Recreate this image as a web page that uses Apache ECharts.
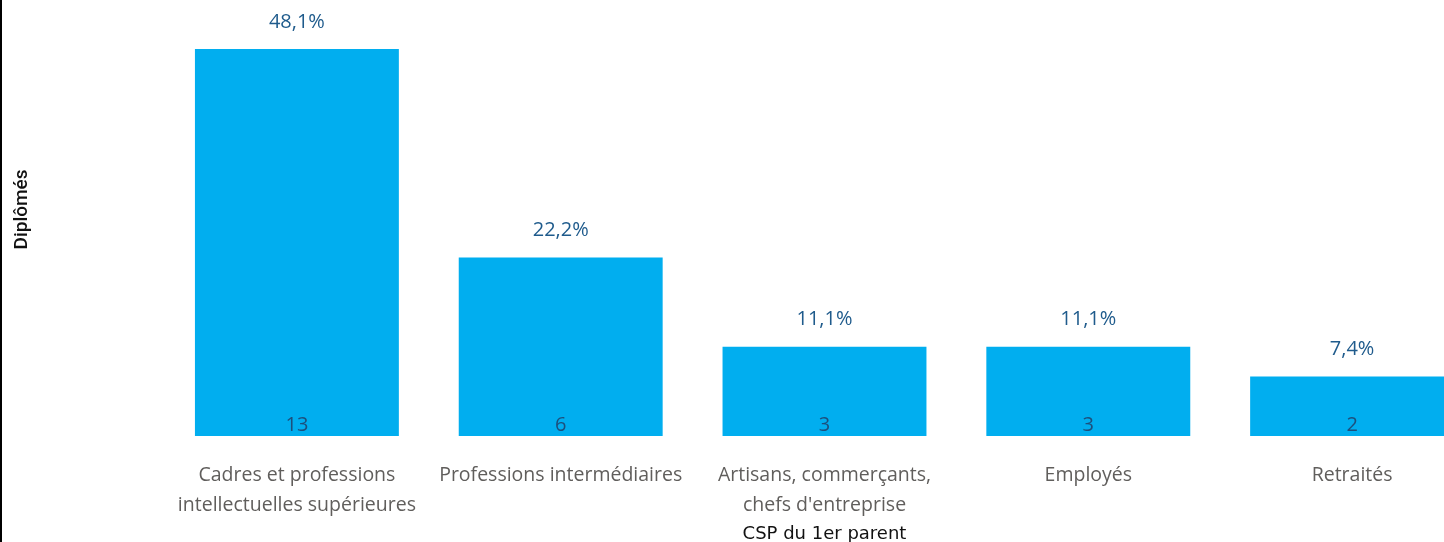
<!DOCTYPE html>
<html>
<head>
<meta charset="utf-8">
<script src="https://cdn.jsdelivr.net/npm/echarts@6/dist/echarts.min.js"></script>
<style>
  html, body { margin: 0; padding: 0; background: #fff; }
  #chart { width: 1444px; height: 542px; }
</style>
</head>
<body>
<div id="chart"></div>
<script>
const categories = [
  'Cadres et professions\nintellectuelles supérieures',
  'Professions intermédiaires',
  'Artisans, commerçants,\nchefs d\'entreprise',
  'Employés',
  'Retraités'
];
const counts = [13, 6, 3, 3, 2];
const percents = ['48,1%', '22,2%', '11,1%', '11,1%', '7,4%'];

const chart = echarts.init(document.getElementById('chart'));

let option = {
  animation: false,
  grid: {left: 165, top: 49, width: 1319, bottom: 106, containLabel: false, outerBoundsMode: 'none'},
  graphic: [
    {type: 'rect', left: 0, top: 0, shape: {width: 2, height: 542}, style: {fill: '#000'}}
  ],
  xAxis: {
    type: 'category',
    data: categories,
    name: 'CSP du 1er parent',
    nameLocation: 'middle',
    nameGap: 85,
    nameTextStyle: {color: '#111', fontSize: 18, fontFamily: 'DejaVu Sans'},
    axisLine: {show: false},
    axisTick: {show: false},
    axisLabel: {
      interval: 0,
      margin: 24,
      color: '#605e5c',
      fontSize: 19.5,
      lineHeight: 30,
      fontFamily: 'Open Sans'
    }
  },
  yAxis: {
    type: 'value',
    min: 0,
    max: 13,
    name: 'Diplômés',
    nameLocation: 'middle',
    nameGap: 133,
    nameTextStyle: {color: '#111', fontSize: 19, fontFamily: 'Roboto', fontWeight: 500, padding: [0, 0, 0, 66]},
    axisLabel: {show: false},
    axisLine: {show: false},
    axisTick: {show: false},
    splitLine: {show: false}
  },
  series: [
    {
      type: 'bar',
      data: counts,
      barCategoryGap: '22.7%',
      itemStyle: {color: '#01aeef'},
      label: {
        show: true,
        position: 'insideBottom',
        distance: 1,
        color: '#1d4f7c',
        fontSize: 20,
        fontFamily: 'Open Sans'
      }
    },
    {
      type: 'bar',
      data: counts,
      barGap: '-100%',
      barCategoryGap: '22.7%',
      itemStyle: {color: 'rgba(0,0,0,0)'},
      silent: true,
      label: {
        show: true,
        position: 'top',
        distance: 17,
        color: '#1f5b8c',
        fontSize: 20,
        fontFamily: 'Open Sans',
        formatter: function (p) {
          return percents[p.dataIndex];
        }
      }
    }
  ]
};
chart.setOption(option);
</script>
</body>
</html>
